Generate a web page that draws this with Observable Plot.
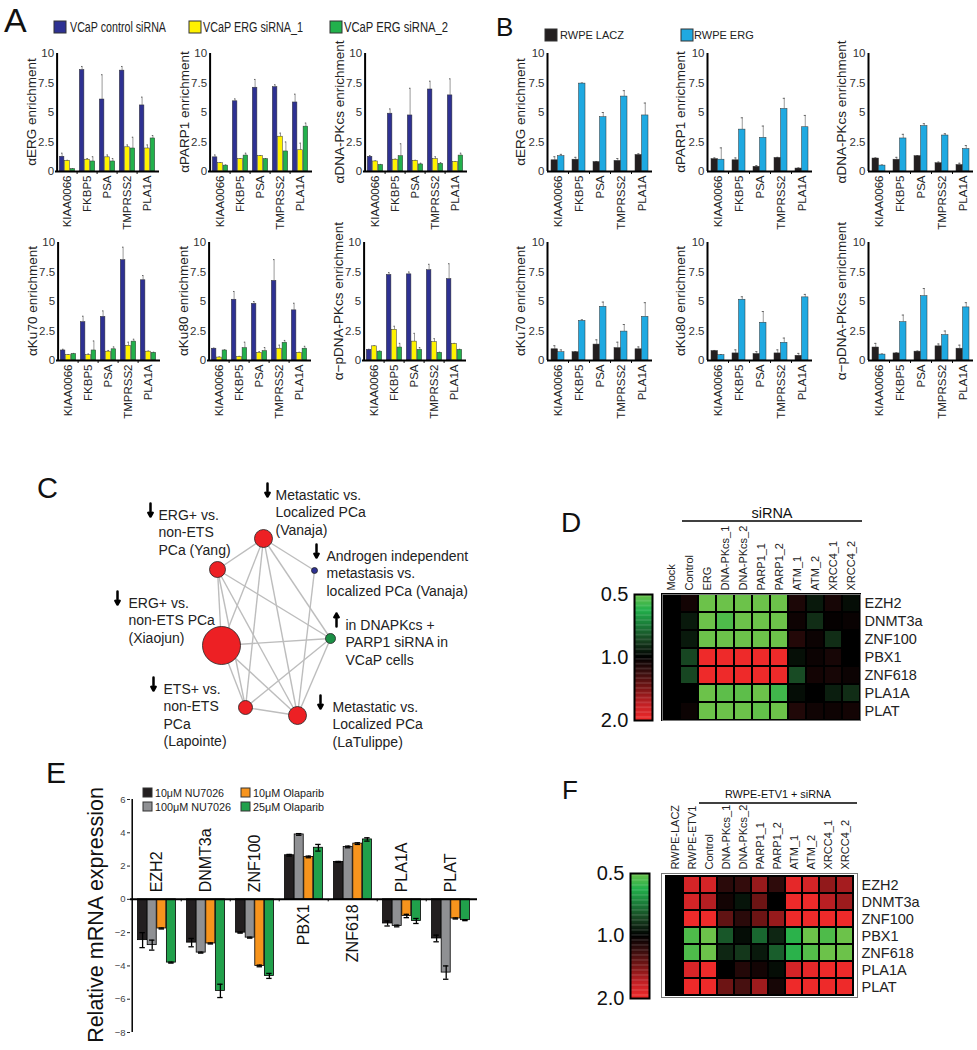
<!DOCTYPE html>
<html>
<head>
<meta charset="utf-8">
<script src="https://cdn.jsdelivr.net/npm/d3@7"></script>
<script src="https://cdn.jsdelivr.net/npm/@observablehq/plot@0.6"></script>
<style>
html,body{margin:0;padding:0;background:#fff;}
#fig{position:relative;width:977px;height:1050px;overflow:hidden;background:#fff;font-family:"Liberation Sans",Arial,sans-serif;}
#fig > div{position:absolute;}
</style>
</head>
<body>
<div id="fig"></div>
<script>
// ================= DATA =================
// Panels A & B: ChIP enrichment
const genesAB = ["KIAA0066", "FKBP5", "PSA", "TMPRSS2", "PLA1A"];
const seriesA = ["VCaP control siRNA", "VCaP ERG siRNA_1", "VCaP ERG siRNA_2"];
const seriesB = ["RWPE LACZ", "RWPE ERG"];
const titlesAB = ["αERG enrichment", "αPARP1 enrichment", "αDNA-PKcs enrichment", "αKu70 enrichment", "αKu80 enrichment", "α−pDNA-PKcs enrichment"];
const yTicksAB = [0, 2.5, 5, 7.5, 10];
const yTickLabelsAB = ["0", "2.5", "5", "7.5", "10"];

// A values: [control, siRNA_1, siRNA_2] x genes
const aERG = [[1.25, 8.6, 6.1, 8.55, 5.6], [0.9, 1.0, 1.2, 2.05, 1.95], [0.2, 0.85, 0.85, 1.95, 2.8]];
const aERGerr = [[0.3, 0.3, 2.1, 0.35, 0.7], [0.05, 0.1, 0.2, 0.2, 0.3], [0.05, 0.4, 0.25, 0.95, 0.25]];
const aPARP1 = [[1.2, 5.95, 7.1, 7.15, 5.85], [0.7, 1.05, 1.3, 2.95, 1.8], [0.5, 1.35, 1.05, 1.7, 3.8]];
const aPARP1err = [[0.2, 0.2, 0.7, 0.2, 0.7], [0.05, 0.05, 0.05, 0.3, 0.6], [0.05, 0.2, 0.05, 0.8, 0.3]];
const aDNAPK = [[1.25, 4.9, 4.75, 6.95, 6.45], [0.85, 1.0, 0.9, 1.05, 0.8], [0.55, 1.3, 0.6, 0.65, 1.35]];
const aDNAPKerr = [[0.1, 0.4, 2.3, 0.7, 1.4], [0.05, 0.05, 0.05, 0.2, 0.05], [0.05, 1.05, 0.1, 0.1, 0.2]];
const aKu70 = [[0.85, 3.25, 3.7, 8.5, 6.8], [0.45, 0.45, 0.75, 1.25, 0.75], [0.55, 0.85, 0.95, 1.6, 0.65]];
const aKu70err = [[0.1, 0.5, 0.5, 1.1, 0.4], [0.05, 0.1, 0.1, 0.3, 0.05], [0.05, 0.8, 0.2, 0.2, 0.05]];
const aKu80 = [[1.0, 5.15, 4.8, 6.75, 4.25], [0.25, 0.3, 0.65, 1.0, 0.65], [0.85, 1.05, 0.8, 1.5, 1.0]];
const aKu80err = [[0.05, 0.7, 0.2, 1.8, 0.6], [0.05, 0.05, 0.1, 0.3, 0.05], [0.05, 0.5, 0.3, 0.2, 0.2]];
const aPDNAPK = [[0.9, 7.25, 7.3, 7.65, 6.9], [1.2, 2.6, 1.6, 1.55, 1.4], [0.75, 1.1, 0.9, 0.65, 0.9]];
const aPDNAPKerr = [[0.05, 0.2, 0.2, 0.5, 1.3], [0.05, 0.3, 0.7, 0.3, 0.05], [0.05, 0.35, 0.2, 0.05, 0.05]];

// B values: [LACZ, ERG] x genes
const bERG = [[0.95, 1.0, 0.8, 0.9, 1.4], [1.3, 7.45, 4.6, 6.35, 4.75]];
const bERGerr = [[0.3, 0.2, 0.05, 0.2, 0.1], [0.15, 0.05, 0.4, 0.5, 1.05]];
const bPARP1 = [[1.05, 0.95, 0.4, 1.15, 0.25], [1.0, 3.55, 2.85, 5.3, 3.75]];
const bPARP1err = [[0.1, 0.2, 0.1, 0.05, 0.05], [1.0, 1.0, 1.0, 0.9, 1.0]];
const bDNAPK = [[1.1, 1.0, 1.3, 0.7, 0.55], [0.5, 2.8, 3.85, 3.05, 1.9]];
const bDNAPKerr = [[0.05, 0.2, 0.05, 0.1, 0.15], [0.05, 0.35, 0.2, 0.15, 0.3]];
const bKu70 = [[0.95, 0.7, 1.35, 1.05, 0.95], [0.7, 3.35, 4.55, 2.45, 3.7]];
const bKu70err = [[0.3, 0.05, 0.4, 0.5, 0.2], [0.2, 0.1, 0.4, 0.6, 1.2]];
const bKu80 = [[0.8, 0.6, 0.55, 0.6, 0.4], [0.45, 5.15, 3.2, 1.5, 5.35]];
const bKu80err = [[0.05, 0.3, 0.2, 0.3, 0.2], [0.05, 0.25, 0.95, 0.4, 0.25]];
const bPDNAPK = [[1.1, 0.6, 0.75, 1.2, 1.0], [0.5, 3.25, 5.45, 2.15, 4.5]];
const bPDNAPKerr = [[0.35, 0.05, 0.05, 0.2, 0.3], [0.05, 0.6, 0.65, 0.35, 0.4]];

// Panel C: network of concept signatures
const cNodes = [
  {id: "Yang", size: 64, type: "clinical", dir: "down", label: "ERG+ vs.\nnon-ETS\nPCa (Yang)"},
  {id: "Vanaja", size: 81, type: "clinical", dir: "down", label: "Metastatic vs.\nLocalized PCa\n(Vanaja)"},
  {id: "VanajaAI", size: 9, type: "AI", dir: "down", label: "Androgen independent\nmetastasis vs.\nlocalized PCa (Vanaja)"},
  {id: "DNAPKcs", size: 25, type: "siRNA", dir: "up", label: "in DNAPKcs +\nPARP1 siRNA in\nVCaP cells"},
  {id: "LaTulippe", size: 81, type: "clinical", dir: "down", label: "Metastatic vs.\nLocalized PCa\n(LaTulippe)"},
  {id: "Lapointe", size: 49, type: "clinical", dir: "down", label: "ETS+ vs.\nnon-ETS\nPCa\n(Lapointe)"},
  {id: "Xiaojun", size: 361, type: "clinical", dir: "down", label: "ERG+ vs.\nnon-ETS PCa\n(Xiaojun)"}
];
const cEdges = [
  ["Yang", "Vanaja"], ["Yang", "Xiaojun"], ["Yang", "Lapointe"], ["Yang", "LaTulippe"], ["Yang", "DNAPKcs"],
  ["Vanaja", "Xiaojun"], ["Vanaja", "Lapointe"], ["Vanaja", "LaTulippe"], ["Vanaja", "VanajaAI"], ["Vanaja", "DNAPKcs"],
  ["VanajaAI", "LaTulippe"], ["Xiaojun", "DNAPKcs"], ["Xiaojun", "Lapointe"], ["Xiaojun", "LaTulippe"],
  ["DNAPKcs", "Lapointe"], ["DNAPKcs", "LaTulippe"], ["Lapointe", "LaTulippe"]
];
// network layout (node x,y ; label x,y ; arrow x) in layout units around the network centre
const cLayout = {
  Yang: [-53, -61, -112, -118, -120],
  Vanaja: [-7, -92, 5, -138, -3],
  VanajaAI: [44, -60, 56, -77, 46],
  DNAPKcs: [60, 8, 75, -8, 66],
  LaTulippe: [27, 85, 62, 74, 50],
  Lapointe: [-25, 77, -107, 56, -117],
  Xiaojun: [-49, 15, -142, -30, -153]
};

// Panels D & F: heatmaps (log2 fold change; -1 = 0.5, +1 = 2.0)
const hmRows = ["EZH2", "DNMT3a", "ZNF100", "PBX1", "ZNF618", "PLA1A", "PLAT"];
const dCols = ["Mock", "Control", "ERG", "DNA-PKcs_1", "DNA-PKcs_2", "PARP1_1", "PARP1_2", "ATM_1", "ATM_2", "XRCC4_1", "XRCC4_2"];
const dLog2 = [
  [0, 0.08, -1, -1, -1, -1, -1, 0.12, -0.1, 0.1, -0.05],
  [0, -0.1, -1, -0.9, -1, -1, -1, 0.06, -0.18, 0.02, 0.04],
  [0, -0.1, -1, -1, -1, -1, -1, 0.15, 0.05, -0.18, 0],
  [0, -0.28, 1, 1, 1, 1, 1, -0.06, 0.05, 0.1, 0],
  [0, -0.28, 1, 1, 1, 1, 1, -0.3, 0.08, 0.1, 0.05],
  [0, 0, -1, -0.95, -0.95, -1, -0.85, -0.05, 0, -0.12, -0.18],
  [0, 0.05, -1, -1, -1, -0.97, -1, 0.14, 0.07, 0.06, 0.08]
];
const fCols = ["RWPE-LACZ", "RWPE-ETV1", "Control", "DNA-PKcs_1", "DNA-PKcs_2", "PARP1_1", "PARP1_2", "ATM_1", "ATM_2", "XRCC4_1", "XRCC4_2"];
const fLog2 = [
  [0, 0.85, 0.85, 0.18, 0.22, 0.6, 0.2, 0.95, 0.85, 0.58, 0.65],
  [0, 0.85, 0.7, 0.08, -0.08, 0.45, 0, 1, 1, 0.72, 0.62],
  [0, 1, 1, 0.4, 0.18, 0.45, 0.6, 1, 1, 1, 1],
  [0, -0.9, -1, -0.35, -0.05, -0.42, -0.15, -0.78, -1, -0.9, -1],
  [0, -0.9, -1, -0.15, -0.22, -0.1, -0.38, -0.78, -0.92, -1, -1],
  [0, 0.88, 1, 0, 0.15, 0.08, -0.05, 0.85, 0.95, 1, 1],
  [0, 1, 1, 0.45, 0.3, 0.62, 0.1, 1, 1, 1, 1]
];
const colorbarTicks = [-1, 0, 1];

// Panel E: relative mRNA expression
const genesE = ["EZH2", "DNMT3a", "ZNF100", "PBX1", "ZNF618", "PLA1A", "PLAT"];
const seriesE = ["10μM NU7026", "100μM NU7026", "10μM Olaparib", "25μM Olaparib"];
const eNU10 = [-2.45, -2.6, -2.0, 2.65, 2.25, -1.45, -2.35];
const eNU100 = [-2.75, -3.2, -2.3, 3.9, 3.15, -1.6, -4.4];
const eOla10 = [-1.75, -2.65, -4.0, 2.55, 3.35, -1.0, -1.15];
const eOla25 = [-3.8, -5.5, -4.6, 3.1, 3.6, -1.3, -1.25];
const eNU10err = [0.45, 0.25, 0.03, 0.05, 0.03, 0.15, 0.2];
const eNU100err = [0.3, 0.03, 0.03, 0.05, 0.05, 0.05, 0.4];
const eOla10err = [0.03, 0.03, 0.05, 0.05, 0.05, 0.1, 0.03];
const eOla25err = [0.03, 0.4, 0.15, 0.2, 0.1, 0.15, 0.03];
const yTicksE = [-8, -6, -4, -2, 0, 2, 4, 6];

// ================= STYLE =================
const FONT = '"Liberation Sans", Arial, Helvetica, sans-serif';
const colorsA = ["#2e3192", "#fff200", "#22b14c"];
const colorsB = ["#231f20", "#1fa9e1"];
const colorsE = ["#231f20", "#8f9093", "#f7941d", "#21a04b"];
const heatStops = ["#6cc24a", "#22b04b", "#1a7a38", "#173f1f", "#000000", "#3a0e0e", "#7a1616", "#c22025", "#ee2a2a"];
const heatColor = {type: "linear", domain: [-1, 1], clamp: true, interpolate: d3.piecewise(d3.interpolateRgb, heatStops)};
const baseStyle = {fontFamily: FONT, background: "transparent", overflow: "visible", maxWidth: "none", color: "#222"};

const fig = document.getElementById("fig");
function place(node, left, top) {
  const div = document.createElement("div");
  div.style.left = left + "px";
  div.style.top = top + "px";
  div.appendChild(node);
  fig.appendChild(div);
}

// ---------- A/B small grouped bar charts ----------
const AB = {mL: 45, mR: 4, mT: 8, mB: 62, innerH: 118};
function enrichmentChart(values, errors, colors, barW, innerW) {
  const bw = innerW / genesAB.length;
  const pad = (bw - values.length * barW) / 2;
  const marks = [];
  values.forEach((vals, i) => {
    const rows = genesAB.map((g, j) => ({gene: g, value: vals[j], err: errors[i][j]}));
    const mid = pad + (i + 0.5) * barW;
    marks.push(Plot.ruleX(rows, {x: "gene", y1: "value", y2: d => d.value + d.err, dx: mid - bw / 2, stroke: "#9a9a9a", strokeWidth: 1}));
    marks.push(Plot.tickY(rows, {x: "gene", y: d => d.value + d.err, insetLeft: mid - 1, insetRight: bw - mid - 1, stroke: "#666", strokeWidth: 1}));
    marks.push(Plot.barY(rows, {x: "gene", y1: 0, y2: "value", fill: colors[i], stroke: "#333", strokeWidth: 0.5,
      insetLeft: pad + i * barW, insetRight: bw - pad - (i + 1) * barW}));
  });
  marks.push(Plot.ruleY([0], {stroke: "#000", strokeWidth: 2}));
  marks.push(Plot.ruleX([genesAB[0]], {x: d => d, y1: 0, y2: 10, dx: -bw / 2, stroke: "#000", strokeWidth: 2}));
  marks.push(Plot.ruleX(genesAB.slice(1), {x: d => d, y1: 0, y2: -0.25, dx: -bw / 2, stroke: "#000", strokeWidth: 1}));
  // y tick labels (0, 2.5, 5, 7.5, 10) placed on the y scale, just left of the axis line
  marks.push(Plot.text(yTicksAB, {x: () => genesAB[0], y: d => d, text: (d, i) => yTickLabelsAB[i], dx: -bw / 2 - 3,
    textAnchor: "end", fontSize: 11.5, fill: "#333"}));
  marks.push(Plot.axisX({tickRotate: -90, tickSize: 0, tickPadding: 4, fontSize: 11.5, label: null, fill: "#222"}));
  return Plot.plot({
    width: AB.mL + innerW + AB.mR, height: AB.mT + AB.innerH + AB.mB,
    marginLeft: AB.mL, marginRight: AB.mR, marginTop: AB.mT, marginBottom: AB.mB,
    style: baseStyle,
    x: {type: "band", domain: genesAB, padding: 0},
    y: {domain: [0, 10], axis: null},
    marks
  });
}

// [values, errors, y-axis x, y of "10"]
const chartsA = [
  [aERG, aERGerr, 55, 53], [aPARP1, aPARP1err, 208, 53], [aDNAPK, aDNAPKerr, 363, 53],
  [aKu70, aKu70err, 56, 242], [aKu80, aKu80err, 207, 242], [aPDNAPK, aPDNAPKerr, 362, 242]
];
const chartsB = [
  [bERG, bERGerr, 547, 53], [bPARP1, bPARP1err, 707, 53], [bDNAPK, bDNAPKerr, 868, 53],
  [bKu70, bKu70err, 547, 242], [bKu80, bKu80err, 707, 242], [bPDNAPK, bPDNAPKerr, 868, 242]
];
chartsA.forEach(([v, e, ax, y10]) => place(enrichmentChart(v, e, colorsA, 5.4, 104), ax - AB.mL, y10 - AB.mT));
chartsB.forEach(([v, e, ax, y10]) => place(enrichmentChart(v, e, colorsB, 6.5, 105), ax - AB.mL, y10 - AB.mT));

// ---------- C network ----------
{
  const L = id => cLayout[id];
  const labelRows = cNodes.map(d => ({...d, lx: L(d.id)[2], ly: L(d.id)[3], ax: L(d.id)[4]}));
  const chart = Plot.plot({
    width: 480, height: 290, margin: 0, style: baseStyle,
    x: {domain: [-270, 210], range: [0, 480], axis: null},
    y: {domain: [-160, 130], range: [0, 290], axis: null},
    r: {domain: [0, 361], range: [0, 19]},
    color: {domain: ["clinical", "AI", "siRNA"], range: ["#ed2024", "#2e3192", "#1b8f45"]},
    marks: [
      Plot.link(cEdges, {x1: d => L(d[0])[0], y1: d => L(d[0])[1], x2: d => L(d[1])[0], y2: d => L(d[1])[1], stroke: "#bdbdbd", strokeWidth: 1.4}),
      Plot.dot(cNodes, {x: d => L(d.id)[0], y: d => L(d.id)[1], r: "size", fill: "type", stroke: "#222", strokeWidth: 0.8}),
      Plot.text(labelRows, {x: "lx", y: d => d.ly - 5, text: "label", textAnchor: "start", lineAnchor: "top", lineHeight: 1.25, fontSize: 14, fill: "#222"}),
      Plot.arrow(labelRows, {x1: "ax", x2: "ax",
        y1: d => d.dir === "down" ? d.ly - 9 : d.ly + 4,
        y2: d => d.dir === "down" ? d.ly + 4 : d.ly - 9,
        stroke: "#000", strokeWidth: 2.5, headLength: 6})
    ]
  });
  place(chart, 0, 470);
}

// ---------- D & F heatmaps + colour bars ----------
function heatmap(cols, vals, innerW, innerH) {
  const data = [];
  hmRows.forEach((r, i) => cols.forEach((c, j) => data.push({row: r, col: c, v: vals[i][j]})));
  return Plot.plot({
    width: 2 + innerW + 95, height: 85 + innerH + 4,
    marginLeft: 2, marginRight: 95, marginTop: 85, marginBottom: 4,
    style: baseStyle,
    x: {type: "band", domain: cols, padding: 0},
    y: {type: "band", domain: hmRows, padding: 0},
    color: heatColor,
    marks: [
      Plot.cell(data, {x: "col", y: "row", fill: "v", stroke: "#000", strokeWidth: 2, inset: 0}),
      Plot.frame({stroke: "#777", strokeWidth: 1}),
      Plot.axisX({anchor: "top", tickRotate: -90, tickSize: 0, tickPadding: 4, fontSize: 11, label: null, fill: "#222"}),
      Plot.axisY({anchor: "right", tickSize: 0, tickPadding: 4, fontSize: 14.5, label: null, fill: "#222"})
    ]
  });
}
function colorbar(innerW, innerH) {
  const steps = d3.range(-1, 1, 0.02);
  return Plot.plot({
    width: 40 + innerW + 2, height: 12 + innerH + 12,
    marginLeft: 40, marginRight: 2, marginTop: 12, marginBottom: 12,
    style: baseStyle,
    x: {domain: [0, 1], axis: null},
    y: {domain: [1, -1]},
    color: heatColor,
    marks: [
      Plot.rect(steps, {x1: 0, x2: 1, y1: d => d, y2: d => d + 0.025, fill: d => d + 0.01}),
      Plot.frame({stroke: "#000", strokeWidth: 2}),
      Plot.axisY(colorbarTicks, {tickFormat: d => (2 ** d).toFixed(1), tickSize: 0, tickPadding: 6, fontSize: 20, label: null, fill: "#111"})
    ]
  });
}
place(heatmap(dCols, dLog2, 198, 126), 660, 594 - 85);
place(colorbar(18, 126), 634 - 40, 594 - 12);
place(heatmap(fCols, fLog2, 196, 124), 659, 873 - 85);
place(colorbar(19, 125), 630 - 40, 873 - 12);

// ---------- E grouped bar chart ----------
{
  const mL = 60, mR = 8, mT = 11, mB = 12, innerW = 347, innerH = 233;
  const bw = innerW / genesE.length, barW = 9.6;
  const pad = (bw - 4 * barW) / 2;
  const eValues = [eNU10, eNU100, eOla10, eOla25];
  const eErrors = [eNU10err, eNU100err, eOla10err, eOla25err];
  const marks = [];
  eValues.forEach((vals, i) => {
    const rows = genesE.map((g, j) => ({gene: g, value: vals[j], err: eErrors[i][j]}));
    const mid = pad + (i + 0.5) * barW;
    marks.push(Plot.barY(rows, {x: "gene", y1: 0, y2: "value", fill: colorsE[i], stroke: "#000", strokeWidth: 0.8,
      insetLeft: pad + i * barW, insetRight: bw - pad - (i + 1) * barW}));
    marks.push(Plot.ruleX(rows, {x: "gene", y1: d => d.value - d.err, y2: d => d.value + d.err, dx: mid - bw / 2, stroke: "#000", strokeWidth: 1.3}));
    marks.push(Plot.tickY(rows, {x: "gene", y: d => d.value - d.err, insetLeft: mid - 3, insetRight: bw - mid - 3, stroke: "#000", strokeWidth: 1.3}));
    marks.push(Plot.tickY(rows, {x: "gene", y: d => d.value + d.err, insetLeft: mid - 3, insetRight: bw - mid - 3, stroke: "#000", strokeWidth: 1.3}));
  });
  const meanOf = j => d3.mean(eValues, s => s[j]);
  const negGenes = genesE.filter((g, j) => meanOf(j) < 0);
  const posGenes = genesE.filter((g, j) => meanOf(j) >= 0);
  marks.push(Plot.ruleY([0], {stroke: "#000", strokeWidth: 2}));
  marks.push(Plot.ruleX([genesE[0]], {x: d => d, y1: -8, y2: 6, dx: -bw / 2, stroke: "#000", strokeWidth: 1.5}));
  marks.push(Plot.ruleX(genesE.slice(1), {x: d => d, y1: 0, y2: -0.15, dx: -bw / 2, stroke: "#000", strokeWidth: 1}));
  marks.push(Plot.axisY(yTicksE, {tickSize: 3, tickPadding: 2, fontSize: 9.5, label: null, fill: "#444"}));
  marks.push(Plot.text(negGenes, {x: d => d, y: 0, text: d => d, rotate: -90, textAnchor: "start", dy: -7, fontSize: 16, fill: "#111"}));
  marks.push(Plot.text(posGenes, {x: d => d, y: 0, text: d => d, rotate: -90, textAnchor: "end", dy: 5, fontSize: 16, fill: "#111"}));
  const chart = Plot.plot({
    width: mL + innerW + mR, height: mT + innerH + mB,
    marginLeft: mL, marginRight: mR, marginTop: mT, marginBottom: mB,
    style: baseStyle,
    x: {type: "band", domain: genesE, padding: 0, axis: null},
    y: {domain: [-8, 6]},
    marks
  });
  place(chart, 130 - mL, 799 - mT);
}

// ---------- Overlay: panel letters, axis titles, legends, brackets ----------
{
  const svg = d3.create("svg").attr("width", 977).attr("height", 1050)
    .style("position", "absolute").style("left", "0px").style("top", "0px")
    .style("pointer-events", "none").style("overflow", "visible")
    .attr("font-family", FONT).attr("fill", "#111");
  const letters = [["A", 4, 32, 34], ["B", 496, 36, 26], ["C", 37, 498, 29], ["D", 561, 532, 28], ["E", 46, 783, 30], ["F", 562, 799, 26]];
  letters.forEach(([t, x, y, s]) => svg.append("text").attr("x", x).attr("y", y).attr("font-size", s).text(t));

  // y-axis titles of A/B (centre x = axis - offset, centre y = middle of the axis)
  const titleRows = [
    ...chartsA.map((c, i) => [titlesAB[i], c[2] - 24, c[3] + 59]),
    ...chartsB.map((c, i) => [titlesAB[i], c[2] - 27, c[3] + 59])
  ];
  titleRows.forEach(([t, x, y]) => {
    svg.append("text").attr("transform", `translate(${x},${y}) rotate(-90)`)
      .attr("text-anchor", "middle").attr("dominant-baseline", "central").attr("font-size", 13.5).attr("fill", "#222").text(t);
  });

  // Legend A
  [[54, 70, 96], [189, 203, 100], [330, 344, 104]].forEach(([sx, tx, len], i) => {
    svg.append("rect").attr("x", sx).attr("y", 21).attr("width", 12).attr("height", 12).attr("fill", colorsA[i]).attr("stroke", "#333").attr("stroke-width", 1);
    svg.append("text").attr("x", tx).attr("y", 32).attr("font-size", 14).attr("textLength", len).attr("lengthAdjust", "spacingAndGlyphs").attr("fill", "#222").text(seriesA[i]);
  });
  // Legend B
  [[545, 560], [681, 694]].forEach(([sx, tx], i) => {
    svg.append("rect").attr("x", sx).attr("y", 29).attr("width", 12).attr("height", 12).attr("fill", colorsB[i]).attr("stroke", "#333").attr("stroke-width", 1);
    svg.append("text").attr("x", tx).attr("y", 39).attr("font-size", 11).attr("fill", "#222").text(seriesB[i]);
  });
  // Legend E
  [[143, 788, 155, 69], [143, 802, 155, 76], [241, 788, 253, 71], [241, 802, 253, 71]].forEach(([sx, sy, tx, len], i) => {
    svg.append("rect").attr("x", sx).attr("y", sy).attr("width", 9).attr("height", 9).attr("fill", colorsE[i]).attr("stroke", "#333").attr("stroke-width", 1);
    svg.append("text").attr("x", tx).attr("y", sy + 8.5).attr("font-size", 11).attr("textLength", len).attr("lengthAdjust", "spacingAndGlyphs").attr("fill", "#222").text(seriesE[i]);
  });
  // E y title
  svg.append("text").attr("transform", "translate(96,915) rotate(-90)").attr("text-anchor", "middle").attr("dominant-baseline", "central")
    .attr("font-size", 21.5).attr("fill", "#111").text("Relative mRNA expression");

  // D bracket
  svg.append("line").attr("x1", 682).attr("x2", 862).attr("y1", 521).attr("y2", 521).attr("stroke", "#000").attr("stroke-width", 1.5);
  svg.append("text").attr("x", 772).attr("y", 518).attr("text-anchor", "middle").attr("font-size", 14.5).text("siRNA");
  // F bracket
  svg.append("line").attr("x1", 699).attr("x2", 857).attr("y1", 803).attr("y2", 803).attr("stroke", "#000").attr("stroke-width", 1.5);
  svg.append("text").attr("x", 778).attr("y", 798).attr("text-anchor", "middle").attr("font-size", 11.5).attr("textLength", 106).attr("lengthAdjust", "spacingAndGlyphs").text("RWPE-ETV1 + siRNA");

  fig.appendChild(svg.node());
}
</script>
</body>
</html>
